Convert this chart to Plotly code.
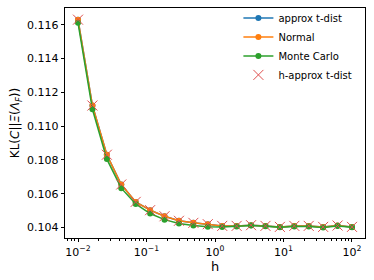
import numpy as np
import plotly.graph_objects as go

h_vals = [0.01, 0.01623777, 0.02636651, 0.04281332, 0.06951928, 0.11288379,
          0.18329807, 0.29763514, 0.48329302, 0.78475997, 1.27427499, 2.06913808,
          3.35981829, 5.45559478, 8.85866790, 14.3844989, 23.3572147, 37.9269019,
          61.5848211, 100.0]

approx_t = [0.11630, 0.11122, 0.10831, 0.10655, 0.10552, 0.10503, 0.10467, 0.10440,
            0.10428, 0.10420, 0.10410, 0.10410, 0.10414, 0.10410, 0.10404, 0.10410,
            0.10410, 0.10404, 0.10412, 0.10404]
normal = [0.11630, 0.11122, 0.10831, 0.10655, 0.10552, 0.10503, 0.10467, 0.10440,
          0.10428, 0.10420, 0.10410, 0.10410, 0.10414, 0.10410, 0.10404, 0.10410,
          0.10410, 0.10404, 0.10412, 0.10404]
monte_carlo = [0.11611, 0.11100, 0.10805, 0.10633, 0.10540, 0.10483, 0.10447, 0.10424,
               0.10412, 0.10405, 0.10403, 0.10406, 0.10412, 0.10408, 0.10402, 0.10407,
               0.10407, 0.10401, 0.10410, 0.10402]
h_approx_t = [0.11630, 0.11122, 0.10831, 0.10655, 0.10552, 0.10503, 0.10467, 0.10440,
              0.10428, 0.10420, 0.10410, 0.10410, 0.10414, 0.10410, 0.10404, 0.10410,
              0.10410, 0.10404, 0.10412, 0.10404]

y_ticks = [0.104, 0.106, 0.108, 0.110, 0.112, 0.114, 0.116]
x_ticks = [0.01, 0.1, 1, 10, 100]
x_ticktext = ["10<sup>−2</sup>", "10<sup>−1</sup>", "10<sup>0</sup>", "10<sup>1</sup>", "10<sup>2</sup>"]

FONT = "DejaVu Sans"
fig = go.Figure()
fig.add_trace(go.Scatter(x=h_vals, y=approx_t, name="approx t-dist", mode="lines+markers",
                         line=dict(color="#1f77b4", width=1.5),
                         marker=dict(symbol="circle", size=6, color="#1f77b4")))
fig.add_trace(go.Scatter(x=h_vals, y=normal, name="Normal", mode="lines+markers",
                         line=dict(color="#ff7f0e", width=1.5),
                         marker=dict(symbol="circle", size=6, color="#ff7f0e")))
fig.add_trace(go.Scatter(x=h_vals, y=monte_carlo, name="Monte Carlo", mode="lines+markers",
                         line=dict(color="#2ca02c", width=1.5),
                         marker=dict(symbol="circle", size=6, color="#2ca02c")))
fig.add_trace(go.Scatter(x=h_vals, y=h_approx_t, name="h-approx t-dist", mode="markers",
                         marker=dict(symbol="x-thin-open", size=10, color="#e0504f",
                                     line=dict(color="#e0504f", width=1))))

minor_vals = [m * 10.0 ** e for e in range(-3, 3) for m in range(2, 10)]

fig.update_layout(
    template="none",
    width=374, height=280,
    margin=dict(l=65, r=9, t=8, b=42, autoexpand=False),
    paper_bgcolor="white", plot_bgcolor="white",
    font=dict(family=FONT, size=11, color="black"),
    showlegend=True,
    legend=dict(x=0.578, y=1.02, xanchor="left", yanchor="top",
                bgcolor="rgba(0,0,0,0)", font=dict(size=10, family=FONT),
                tracegroupgap=0, itemwidth=30),
    xaxis=dict(type="log", range=[np.log10(0.01) - 0.19, np.log10(100) + 0.19],
               automargin=False,
               tickmode="array", tickvals=x_ticks, ticktext=x_ticktext,
               ticks="outside", ticklen=3.5, tickwidth=0.8, tickcolor="black",
               showline=True, linecolor="black", linewidth=0.8, mirror=True,
               showgrid=False, zeroline=False,
               tickfont=dict(size=11, family=FONT),
               minor=dict(tickmode="array", tickvals=minor_vals, ticks="outside",
                          ticklen=2, tickwidth=0.6, tickcolor="black", showgrid=False),
               title=dict(text="h", font=dict(size=13, family=FONT), standoff=1)),
    yaxis=dict(range=[0.103383, 0.11699], automargin=False,
               tickmode="array", tickvals=y_ticks, ticktext=[f"{v:.3f}" for v in y_ticks],
               ticks="outside", ticklen=3.5, tickwidth=0.8, tickcolor="black",
               showline=True, linecolor="black", linewidth=0.8, mirror=True,
               showgrid=False, zeroline=False,
               tickfont=dict(size=11, family=FONT),
               title=dict(text="KL(<i>C</i>||<i>Ξ</i>(<i>Λ</i><sub><i>F</i></sub>))",
                          font=dict(size=12, family=FONT), standoff=4)),
)

fig.write_html("out.html", config={"displayModeBar": False},
               post_script="document.body.style.margin='0';document.body.style.padding='0';")
